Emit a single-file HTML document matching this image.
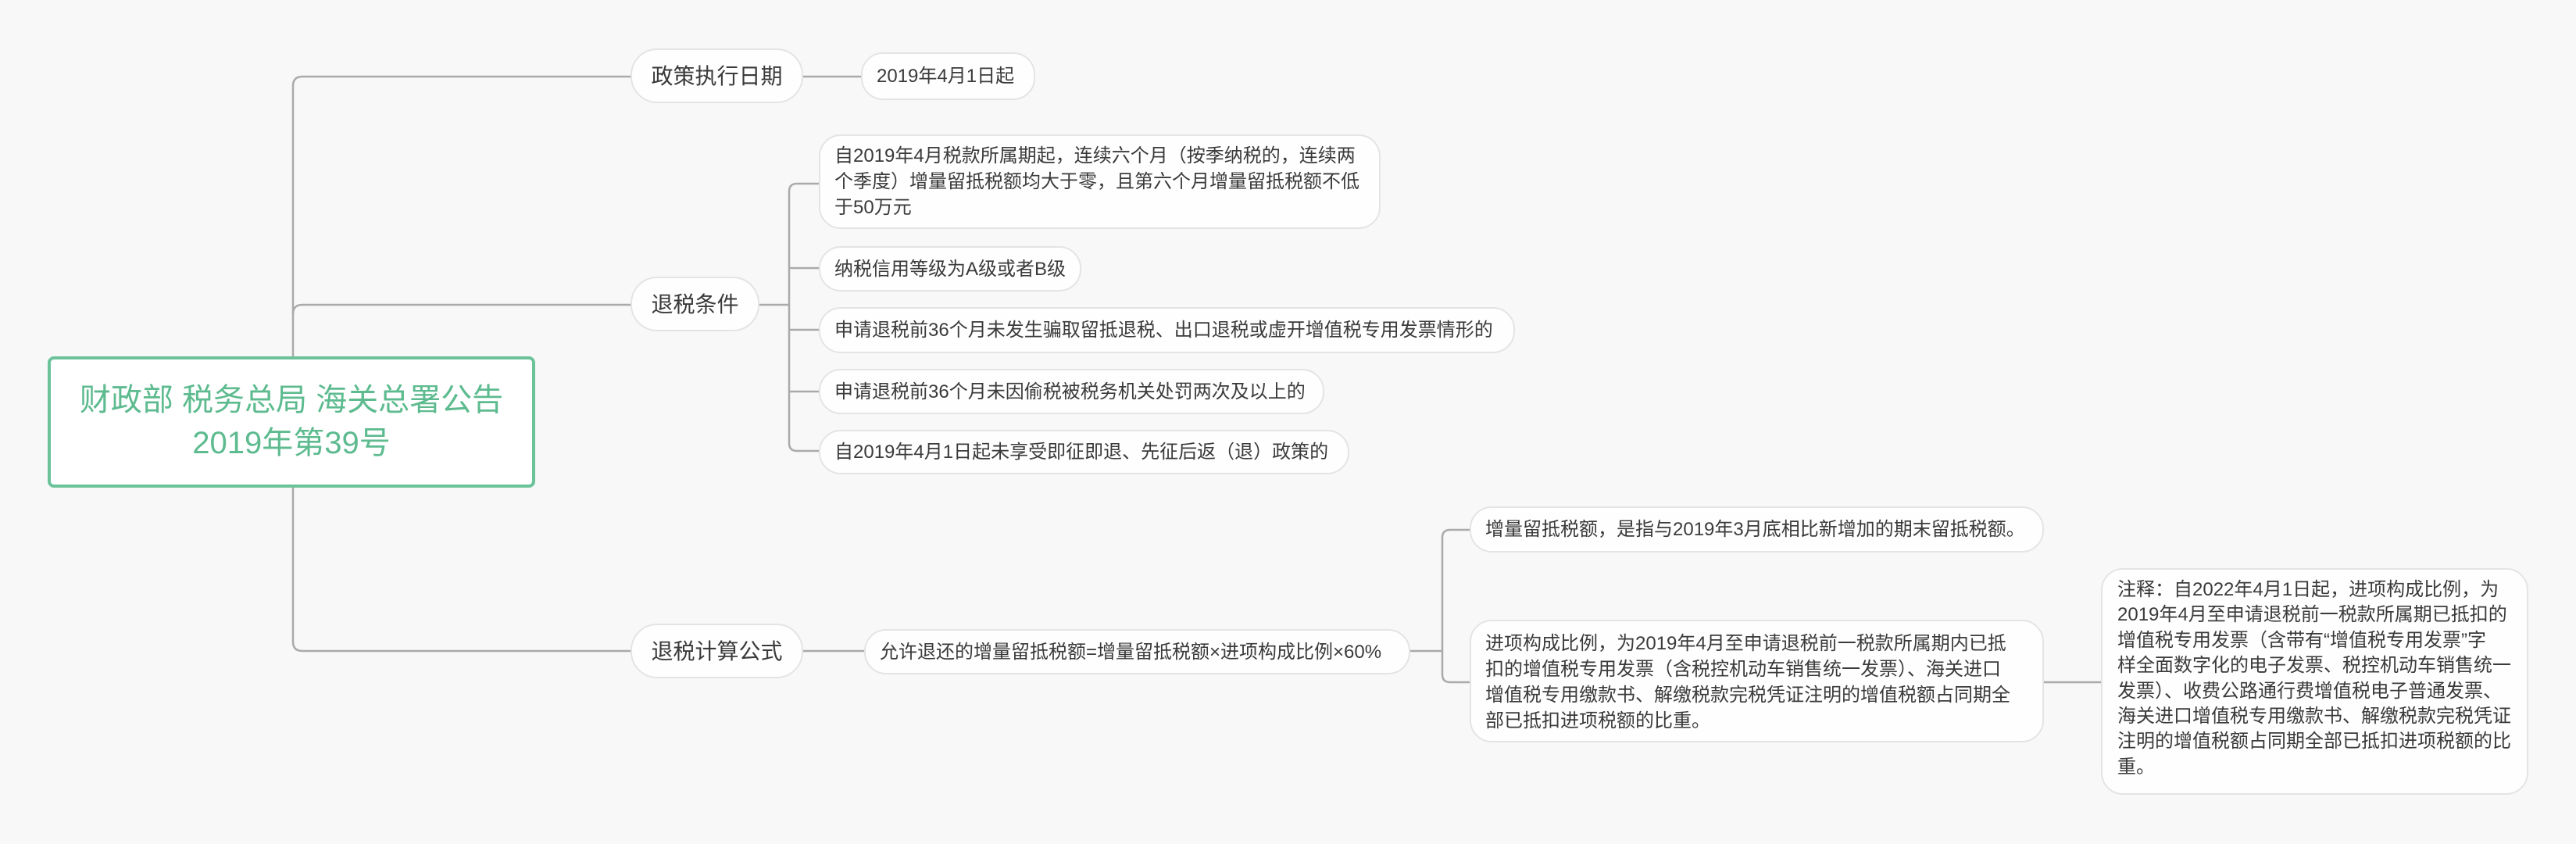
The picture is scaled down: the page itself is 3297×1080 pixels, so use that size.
<!DOCTYPE html>
<html><head><meta charset="utf-8"><style>
html,body{margin:0;padding:0}
body{width:3297px;height:1080px;background:#f8f8f8;position:relative;overflow:hidden;font-family:"Liberation Sans","Noto Sans CJK SC",sans-serif;color:#3a3a3a}
.n{position:absolute;box-sizing:border-box;background:#fefefe;border:2px solid #e4e4e4;border-radius:28px;font-size:24px;line-height:33px;white-space:nowrap;display:flex;align-items:center;padding:0 18px}
.t{align-items:flex-start;padding-top:9px}
.l1{font-size:28px;justify-content:center;border-radius:34px}
.root{position:absolute;left:61px;top:456px;width:624px;height:168px;box-sizing:border-box;border:4px solid #6cc39a;border-radius:8px;background:#fff;color:#5dbb8f;font-size:40px;line-height:55px;text-align:center;display:flex;align-items:center;justify-content:center}
</style></head><body>
<svg width="3297" height="1080" style="position:absolute;left:0;top:0" fill="none" stroke="#aaaaaa" stroke-width="2.5">
<path d="M807 98 H387 Q375 98 375 110 V821 Q375 833 387 833 H807"/>
<path d="M375 402 Q375 390 387 390 H807"/>
<path d="M1028 98 H1102"/>
<path d="M972 390 H1010"/>
<path d="M1048 235 H1020 Q1010 235 1010 245 V567 Q1010 577 1020 577 H1048"/>
<path d="M1010 343 H1048 M1010 422 H1048 M1010 501 H1048"/>
<path d="M1028 833 H1106"/>
<path d="M1805 833 H1846"/>
<path d="M1881 678 H1856 Q1846 678 1846 688 V863 Q1846 873 1856 873 H1881"/>
<path d="M2616 873 H2689"/>
</svg>
<div class="root"><div>财政部 税务总局 海关总署公告<br>2019年第39号</div></div>

<div class="n l1" style="left:807px;top:62px;width:221px;height:70px">政策执行日期</div>
<div class="n l1" style="left:807px;top:354px;width:165px;height:70px">退税条件</div>
<div class="n l1" style="left:807px;top:798px;width:221px;height:70px">退税计算公式</div>

<div class="n" style="left:1102px;top:67px;width:223px;height:61px">2019年4月1日起</div>

<div class="n t" style="left:1048px;top:172px;width:719px;height:121px">自2019年4月税款所属期起，连续六个月（按季纳税的，连续两<br>个季度）增量留抵税额均大于零，且第六个月增量留抵税额不低<br>于50万元</div>
<div class="n" style="left:1048px;top:315px;width:336px;height:58px">纳税信用等级为A级或者B级</div>
<div class="n" style="left:1048px;top:393px;width:891px;height:59px">申请退税前36个月未发生骗取留抵退税、出口退税或虚开增值税专用发票情形的</div>
<div class="n" style="left:1048px;top:472px;width:647px;height:58px">申请退税前36个月未因偷税被税务机关处罚两次及以上的</div>
<div class="n" style="left:1048px;top:550px;width:679px;height:57px">自2019年4月1日起未享受即征即退、先征后返（退）政策的</div>

<div class="n" style="left:1106px;top:805px;width:699px;height:58px">允许退还的增量留抵税额=增量留抵税额×进项构成比例×60%</div>
<div class="n" style="left:1881px;top:648px;width:735px;height:59px">增量留抵税额，是指与2019年3月底相比新增加的期末留抵税额。</div>
<div class="n t" style="left:1881px;top:793px;width:735px;height:157px;padding-top:12px">进项构成比例，为2019年4月至申请退税前一税款所属期内已抵<br>扣的增值税专用发票（含税控机动车销售统一发票）、海关进口<br>增值税专用缴款书、解缴税款完税凭证注明的增值税额占同期全<br>部已抵扣进项税额的比重。</div>
<div class="n t" style="left:2689px;top:727px;width:547px;height:290px;padding-top:10px;line-height:32.4px;padding-left:19px">注释：自2022年4月1日起，进项构成比例，为<br>2019年4月至申请退税前一税款所属期已抵扣的<br>增值税专用发票（含带有“增值税专用发票”字<br>样全面数字化的电子发票、税控机动车销售统一<br>发票）、收费公路通行费增值税电子普通发票、<br>海关进口增值税专用缴款书、解缴税款完税凭证<br>注明的增值税额占同期全部已抵扣进项税额的比<br>重。</div>
</body></html>
